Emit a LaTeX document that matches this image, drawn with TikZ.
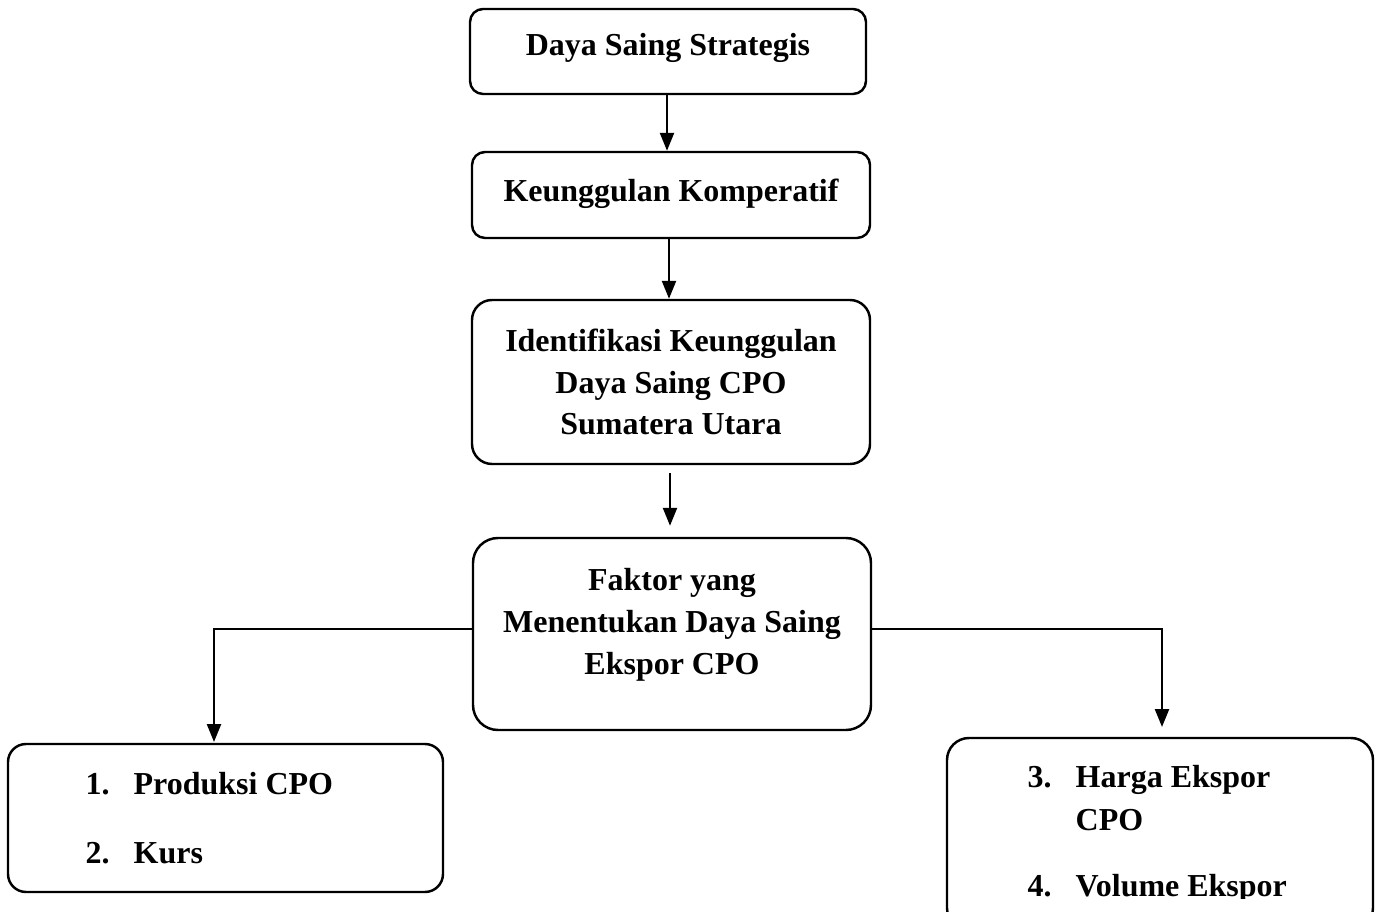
\documentclass[tikz,border=0pt]{standalone}
\usepackage{fontspec}
\setmainfont{Liberation Serif}
\usetikzlibrary{arrows.meta}
\begin{document}
\begin{tikzpicture}[x=0.1mm,y=-0.1mm,
  box/.style={draw,line width=0.7pt,rectangle,inner sep=0pt},
  txt/.style={font=\fontsize{9.1}{11.9}\selectfont\bfseries,inner sep=0pt},
  arr/.style={line width=0.7pt,-{Triangle[length=1.8mm,width=1.4mm]}}]
\clip (0,0) rectangle (1381,912);

\node (b1) at (668,51.5) [box,rounded corners=1.3mm,minimum width=39.6mm,minimum height=8.5mm] {};
\node (b2) at (671,195) [box,rounded corners=1.3mm,minimum width=39.8mm,minimum height=8.6mm] {};
\node (b3) at (671,382) [box,rounded corners=2mm,minimum width=39.8mm,minimum height=16.4mm] {};
\node (b4) at (672,634) [box,rounded corners=2.5mm,minimum width=39.8mm,minimum height=19.2mm] {};
\node (b5) at (225.5,818) [box,rounded corners=1.8mm,minimum width=43.5mm,minimum height=14.8mm] {};
\node (b6) at (1160,834) [box,rounded corners=2.2mm,minimum width=42.6mm,minimum height=19.2mm] {};

\node (t1) at (668,56) [txt,anchor=base] {Daya Saing Strategis};
\node (t2) at (671,202) [txt,anchor=base] {Keunggulan Komperatif};
\node (t3) at (671,435) [txt,anchor=base,align=center] {Identifikasi Keunggulan\\Daya Saing CPO\\Sumatera Utara};
\node (t4) at (672,674) [txt,anchor=base,align=center] {Faktor yang\\Menentukan Daya Saing\\Ekspor CPO};

\node (n1) at (85,794) [txt,anchor=base west] {1.};
\node (p1) at (133,794) [txt,anchor=base west] {Produksi CPO};
\node (n2) at (85,863) [txt,anchor=base west] {2.};
\node (p2) at (133,863) [txt,anchor=base west] {Kurs};
\node (n3) at (1027,787) [txt,anchor=base west] {3.};
\node (p3) at (1075,787) [txt,anchor=base west] {Harga Ekspor};
\node (p3b) at (1075,830) [txt,anchor=base west] {CPO};
\begin{scope}
\clip (960,850) rectangle (1360,898);
\node (n4) at (1027,896) [txt,anchor=base west] {4.};
\node (p4) at (1075,896) [txt,anchor=base west] {Volume Ekspor};
\end{scope}

\coordinate (c5) at (214,744);
\coordinate (c6) at (1162,738);

\draw [arr] (b1.south -| 667,0) -- (b2.north -| 667,0);
\draw [arr] (b2.south -| 669,0) -- (b3.north -| 669,0);
\draw [arr,shorten <=0.8mm,shorten >=1.1mm] (b3.south -| 670,0) -- (b4.north -| 670,0);
\draw [arr,shorten >=0.2mm] ([yshift=0.5mm]b4.west) -| (c5);
\draw [arr,shorten >=1.1mm] ([yshift=0.5mm]b4.east) -| (c6);

\end{tikzpicture}
\end{document}
